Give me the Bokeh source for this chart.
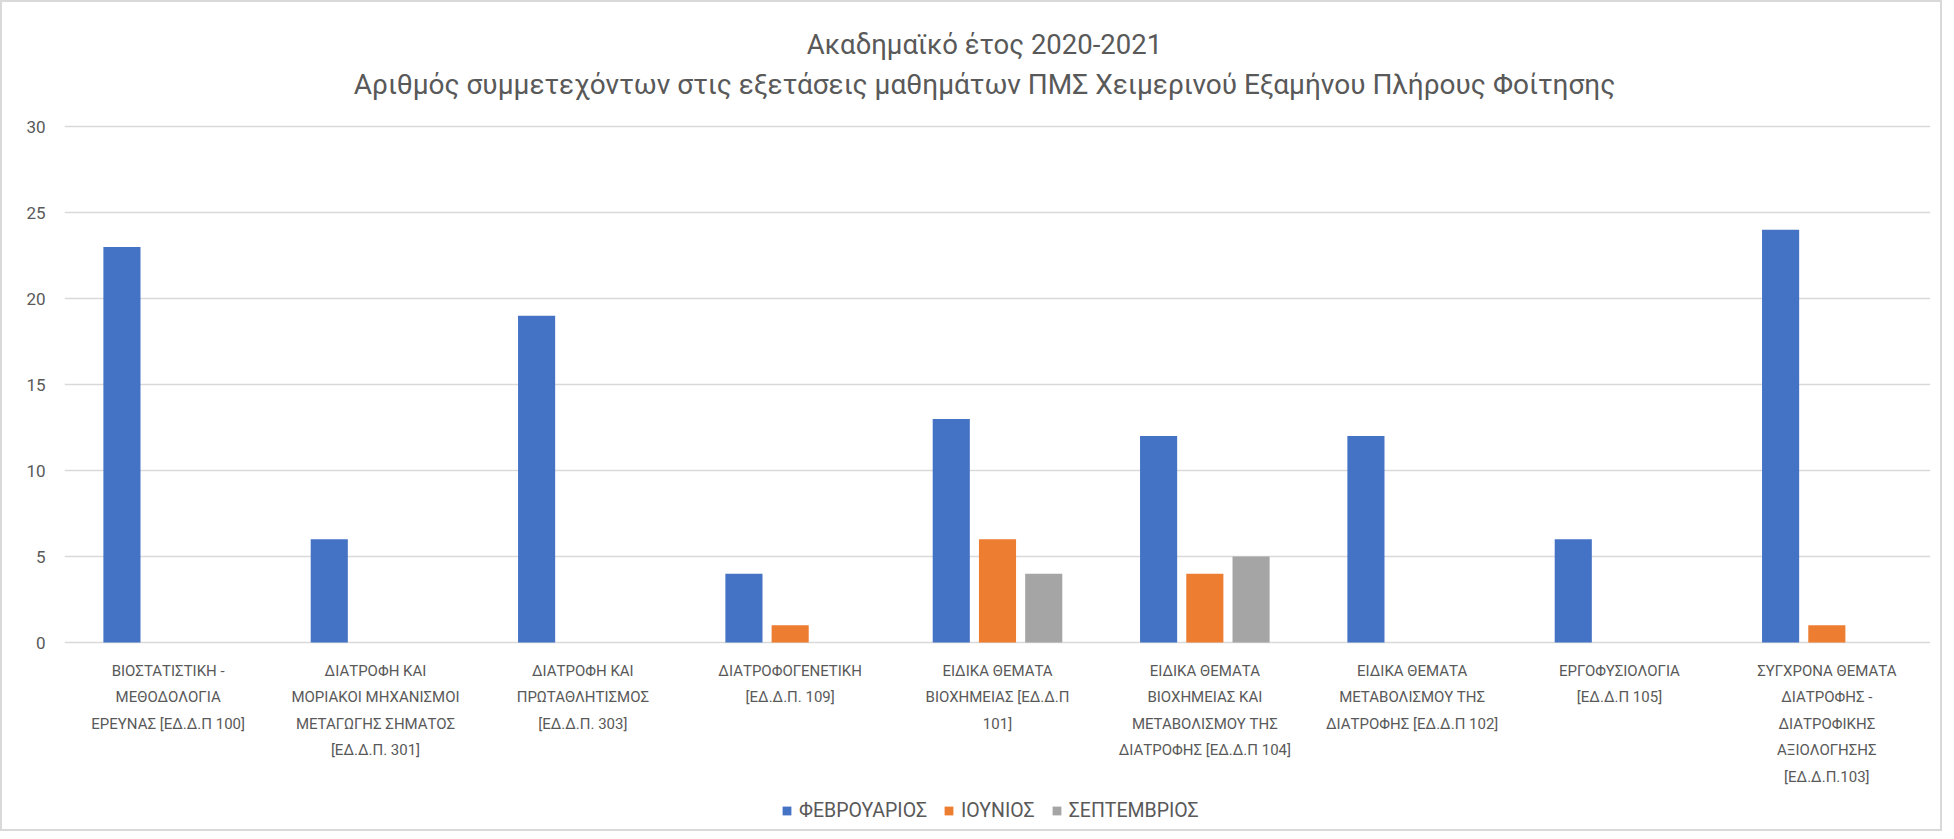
from bokeh.plotting import figure
from bokeh.models import FactorRange, Range1d, Legend, LegendItem, Label, FixedTicker, ColumnDataSource
from bokeh.transform import dodge
from bokeh.core.properties import value
from bokeh.embed import file_html
from bokeh.resources import INLINE

categories = [
    "ΒΙΟΣΤΑΤΙΣΤΙΚΗ -\nΜΕΘΟΔΟΛΟΓΙΑ\nΕΡΕΥΝΑΣ [ΕΔ.Δ.Π 100]",
    "ΔΙΑΤΡΟΦΗ ΚΑΙ\nΜΟΡΙΑΚΟΙ ΜΗΧΑΝΙΣΜΟΙ\nΜΕΤΑΓΩΓΗΣ ΣΗΜΑΤΟΣ\n[ΕΔ.Δ.Π. 301]",
    "ΔΙΑΤΡΟΦΗ ΚΑΙ\nΠΡΩΤΑΘΛΗΤΙΣΜΟΣ\n[ΕΔ.Δ.Π. 303]",
    "ΔΙΑΤΡΟΦΟΓΕΝΕΤΙΚΗ\n[ΕΔ.Δ.Π. 109]",
    "ΕΙΔΙΚΑ ΘΕΜΑΤΑ\nΒΙΟΧΗΜΕΙΑΣ [ΕΔ.Δ.Π\n101]",
    "ΕΙΔΙΚΑ ΘΕΜΑΤΑ\nΒΙΟΧΗΜΕΙΑΣ ΚΑΙ\nΜΕΤΑΒΟΛΙΣΜΟΥ ΤΗΣ\nΔΙΑΤΡΟΦΗΣ [ΕΔ.Δ.Π 104]",
    "ΕΙΔΙΚΑ ΘΕΜΑΤΑ\nΜΕΤΑΒΟΛΙΣΜΟΥ ΤΗΣ\nΔΙΑΤΡΟΦΗΣ [ΕΔ.Δ.Π 102]",
    "ΕΡΓΟΦΥΣΙΟΛΟΓΙΑ\n[ΕΔ.Δ.Π 105]",
    "ΣΥΓΧΡΟΝΑ ΘΕΜΑΤΑ\nΔΙΑΤΡΟΦΗΣ -\nΔΙΑΤΡΟΦΙΚΗΣ\nΑΞΙΟΛΟΓΗΣΗΣ\n[ΕΔ.Δ.Π.103]",
]
series_names = ["ΦΕΒΡΟΥΑΡΙΟΣ", "ΙΟΥΝΙΟΣ", "ΣΕΠΤΕΜΒΡΙΟΣ"]
feb = [23, 6, 19, 4, 13, 12, 12, 6, 24]
jun = [0, 0, 0, 1, 6, 4, 0, 0, 1]
sep = [0, 0, 0, 0, 4, 5, 0, 0, 0]
y_ticks = [0, 5, 10, 15, 20, 25, 30]
title_lines = [
    "Ακαδημαϊκό έτος 2020-2021",
    "Αριθμός συμμετεχόντων στις εξετάσεις μαθημάτων ΠΜΣ Χειμερινού Εξαμήνου Πλήρους Φοίτησης",
]
colors = ["#4472C4", "#ED7D31", "#A5A5A5"]

FONT = "Roboto"
TXT = "#595959"
GRID = "#D9D9D9"

src = ColumnDataSource(dict(cat=categories, feb=feb, jun=jun, sep=sep))

# The frame covers the whole canvas height: titles on top, value area in the middle,
# category labels and legend below the zero line.
TOP_PX = 124      # space above the value 30 line
BOTTOM_PX = 703   # space from the value 30 line to the bottom
FRAME_H = TOP_PX + BOTTOM_PX
PX_PER_UNIT = 17.2
y_max_tick = 30
y_end = y_max_tick + TOP_PX / PX_PER_UNIT
y_start = y_max_tick - BOTTOM_PX / PX_PER_UNIT

p = figure(
    x_range=FactorRange(factors=categories, range_padding=0),
    y_range=Range1d(y_start, y_end),
    frame_width=1866, frame_height=FRAME_H,
    x_axis_location=None, title_location=None,
    output_backend="svg", toolbar_location=None,
    min_border_left=62, min_border_right=10, min_border_top=0, min_border_bottom=0,
)
p.styles = {"border": "2px solid #D9D9D9"}
p.outline_line_color = None
p.background_fill_color = "white"
p.border_fill_color = "white"

bw = 0.179
off = 0.223
renderers = []
for col, dx, c in zip(["feb", "jun", "sep"], [-off, 0, off], colors):
    r = p.vbar(x=dodge("cat", dx, range=p.x_range), top=col, width=bw, source=src,
               fill_color=c, line_color=None)
    renderers.append(r)

# category labels under the zero line
p.text(x="cat", y=0, text="cat", source=src, y_offset=19,
       text_align="center", text_baseline="top", text_line_height=1.48,
       text_font=value(FONT), text_font_size="15px", text_color=TXT)

# two-line chart title (screen units measured from the frame's bottom-left)
for txt, ty, fs in zip(title_lines, [785, 745], ["27.5px", "28px"]):
    p.add_layout(Label(x=920, y=ty, x_units="screen", y_units="screen", text=txt,
                       text_align="center", text_baseline="middle", text_font=FONT,
                       text_font_size=fs, text_color=TXT))

# y axis
p.yaxis.ticker = FixedTicker(ticks=y_ticks)
p.yaxis.axis_line_color = None
p.yaxis.major_tick_line_color = None
p.yaxis.minor_tick_line_color = None
p.yaxis.major_label_text_color = TXT
p.yaxis.major_label_text_font = FONT
p.yaxis.major_label_text_font_size = "17px"
p.yaxis.major_label_standoff = 13

p.xgrid.grid_line_color = None
p.ygrid.grid_line_color = GRID
p.ygrid.grid_line_width = 1.5

legend = Legend(
    items=[LegendItem(label=n, renderers=[r]) for n, r in zip(series_names, renderers)],
    orientation="horizontal", location=(717, 7),
    glyph_width=11, glyph_height=11, label_standoff=7, spacing=16,
    label_text_font=FONT, label_text_font_size="19.5px", label_text_color=TXT,
    border_line_color=None, background_fill_alpha=0, padding=0, margin=0,
)
p.add_layout(legend, "center")

open("out.html", "w").write(file_html(p, INLINE))
